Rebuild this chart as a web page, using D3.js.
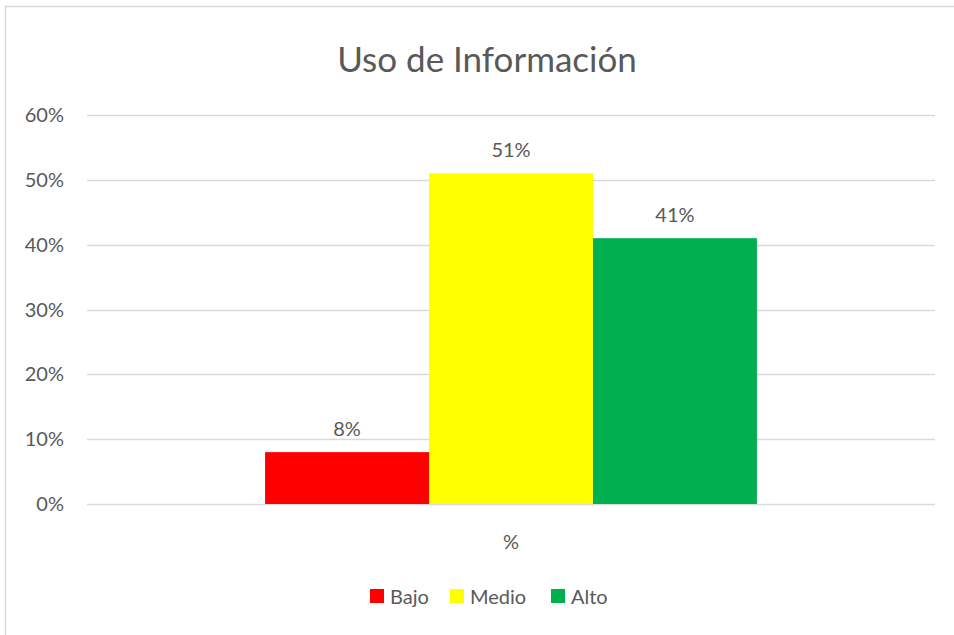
<!DOCTYPE html>
<html>
<head>
<meta charset="utf-8">
<script src="https://cdn.jsdelivr.net/npm/d3@7"></script>
<style>
  body { margin: 0; background: #fff; }
  text { font-family: Lato, "Open Sans", sans-serif; fill: #595959; }
</style>
</head>
<body>
<div id="chart"></div>
<script>
// data
const title = "Uso de Información";
const category = ["%"];
const seriesNames = ["Bajo", "Medio", "Alto"];
const seriesValues = [0.08, 0.51, 0.41];
const seriesColors = ["#ff0000", "#ffff00", "#00b050"];
const yTicks = [0, 0.1, 0.2, 0.3, 0.4, 0.5, 0.6];

const width = 954, height = 635;
const margin = { top: 115, right: 19, bottom: 131, left: 87 };

const svg = d3.select("#chart").append("svg")
  .attr("width", width)
  .attr("height", height);

// chart border
svg.append("rect")
  .attr("x", 5.5).attr("y", 6.5)
  .attr("width", width + 10).attr("height", height + 10)
  .attr("fill", "none")
  .attr("stroke", "#d9d9d9")
  .attr("stroke-width", 1.5);

const x0 = d3.scaleBand()
  .domain(category)
  .range([margin.left, width - margin.right])
  .paddingInner(0.42).paddingOuter(0.21);

const x1 = d3.scaleBand()
  .domain(seriesNames)
  .range([0, x0.bandwidth()]);

const y = d3.scaleLinear()
  .domain([0, 0.6])
  .range([height - margin.bottom, margin.top]);

// gridlines
svg.append("g")
  .selectAll("line")
  .data(yTicks)
  .join("line")
  .attr("x1", margin.left)
  .attr("x2", width - margin.right)
  .attr("y1", d => Math.round(y(d)) + 0.5)
  .attr("y2", d => Math.round(y(d)) + 0.5)
  .attr("stroke", "#d9d9d9")
  .attr("stroke-width", 1.5);

// y tick labels
svg.append("g")
  .selectAll("text")
  .data(yTicks)
  .join("text")
  .attr("x", 64)
  .attr("y", d => y(d))
  .attr("dy", "0.35em")
  .attr("text-anchor", "end")
  .style("font-size", "20px")
  .text(d => d3.format(".0%")(d));

// bars
const data = seriesNames.map((s, i) => ({ name: s, value: seriesValues[i], color: seriesColors[i] }));
const g = svg.append("g").attr("transform", `translate(${x0(category[0])},0)`);

g.selectAll("rect")
  .data(data)
  .join("rect")
  .attr("x", d => x1(d.name))
  .attr("y", d => y(d.value))
  .attr("width", x1.bandwidth())
  .attr("height", d => y(0) - y(d.value))
  .attr("fill", d => d.color);

g.selectAll("text")
  .data(data)
  .join("text")
  .attr("x", d => x1(d.name) + x1.bandwidth() / 2)
  .attr("y", d => y(d.value) - 16)
  .attr("text-anchor", "middle")
  .style("font-size", "20px")
  .text(d => d3.format(".0%")(d.value));

// category label
svg.append("text")
  .attr("x", x0(category[0]) + x0.bandwidth() / 2)
  .attr("y", 549)
  .attr("text-anchor", "middle")
  .style("font-size", "20px")
  .text(category[0]);

// title
svg.append("text")
  .attr("x", (width) / 2 + 10)
  .attr("y", 72)
  .attr("text-anchor", "middle")
  .style("font-size", "35px")
  .text(title);

// legend
const legendX = [370, 450, 551];
const legend = svg.append("g")
  .selectAll("g")
  .data(data)
  .join("g")
  .attr("transform", (d, i) => `translate(${legendX[i]},589)`);

legend.append("rect")
  .attr("width", 14).attr("height", 14)
  .attr("fill", d => d.color);

legend.append("text")
  .attr("x", 20)
  .attr("y", 8)
  .attr("dy", "0.35em")
  .style("font-size", "20px")
  .text(d => d.name);
</script>
</body>
</html>
